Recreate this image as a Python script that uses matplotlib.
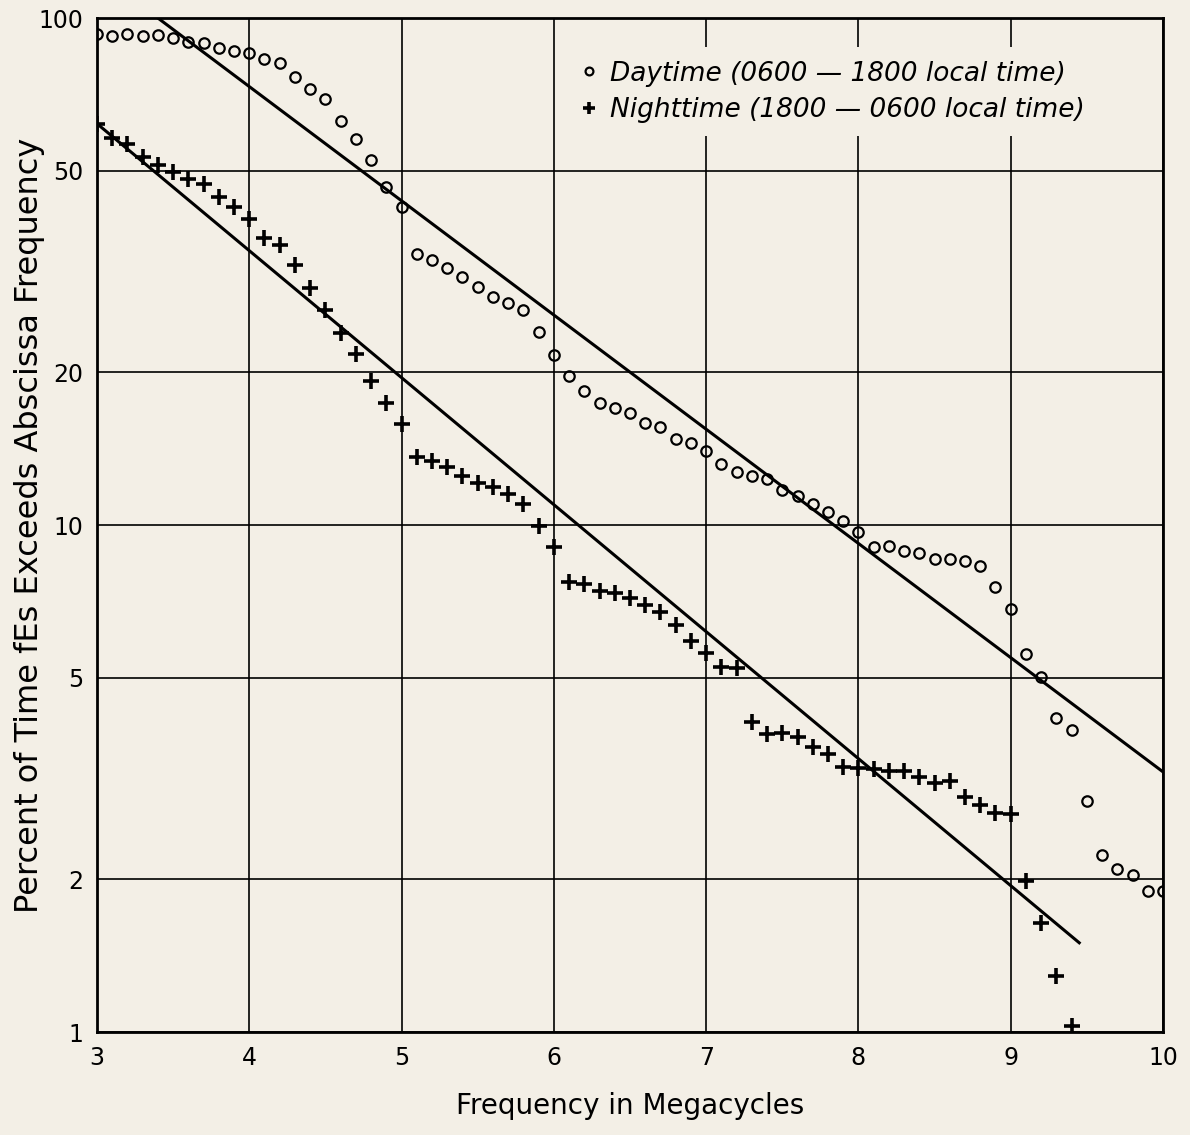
import matplotlib
matplotlib.use("Agg")
import matplotlib.pyplot as plt
import numpy as np

# frequency steps (Mc) and percent of time fEs exceeds that frequency
day_freq = [3.0, 3.1, 3.2, 3.3, 3.4, 3.5, 3.6, 3.7, 3.8, 3.9,
            4.0, 4.1, 4.2, 4.3, 4.4, 4.5, 4.6, 4.7, 4.8, 4.9,
            5.0, 5.1, 5.2, 5.3, 5.4, 5.5, 5.6, 5.7, 5.8, 5.9,
            6.0, 6.1, 6.2, 6.3, 6.4, 6.5, 6.6, 6.7, 6.8, 6.9,
            7.0, 7.1, 7.2, 7.3, 7.4, 7.5, 7.6, 7.7, 7.8, 7.9,
            8.0, 8.1, 8.2, 8.3, 8.4, 8.5, 8.6, 8.7, 8.8, 8.9,
            9.0, 9.1, 9.2, 9.3, 9.4, 9.5, 9.6, 9.7, 9.8, 9.9, 10.0]
day_pct = [92.9, 92.3, 92.9, 92.3, 92.6, 91.4, 89.8, 89.3, 87.2, 86.2,
           85.2, 83.0, 81.6, 76.5, 72.4, 69.1, 62.7, 57.8, 52.4, 46.5,
           42.4, 34.2, 33.4, 32.1, 30.8, 29.5, 28.2, 27.4, 26.6, 24.0,
           21.6, 19.7, 18.4, 17.4, 17.0, 16.6, 15.9, 15.6, 14.8, 14.5,
           14.0, 13.2, 12.7, 12.5, 12.3, 11.7, 11.4, 11.0, 10.6, 10.2,
           9.7, 9.06, 9.1, 8.87, 8.82, 8.58, 8.58, 8.48, 8.29, 7.55,
           6.82, 5.57, 5.02, 4.17, 3.95, 2.86, 2.23, 2.10, 2.04, 1.90, 1.90]

night_freq = [3.0, 3.1, 3.2, 3.3, 3.4, 3.5, 3.6, 3.7, 3.8, 3.9,
              4.0, 4.1, 4.2, 4.3, 4.4, 4.5, 4.6, 4.7, 4.8, 4.9,
              5.0, 5.1, 5.2, 5.3, 5.4, 5.5, 5.6, 5.7, 5.8, 5.9,
              6.0, 6.1, 6.2, 6.3, 6.4, 6.5, 6.6, 6.7, 6.8, 6.9,
              7.0, 7.1, 7.2, 7.3, 7.4, 7.5, 7.6, 7.7, 7.8, 7.9,
              8.0, 8.1, 8.2, 8.3, 8.4, 8.5, 8.6, 8.7, 8.8, 8.9,
              9.0, 9.1, 9.2, 9.3, 9.4]
night_pct = [61.7, 58.1, 56.4, 53.3, 51.3, 49.8, 48.1, 47.0, 44.4, 42.4,
             40.1, 36.9, 35.6, 32.6, 29.3, 26.5, 23.9, 21.7, 19.2, 17.4,
             15.8, 13.6, 13.4, 13.0, 12.5, 12.1, 11.9, 11.5, 11.0, 9.97,
             9.04, 7.71, 7.65, 7.42, 7.35, 7.17, 6.95, 6.74, 6.35, 5.91,
             5.60, 5.26, 5.22, 4.09, 3.88, 3.89, 3.82, 3.65, 3.53, 3.34,
             3.32, 3.31, 3.28, 3.28, 3.19, 3.10, 3.13, 2.91, 2.81, 2.71,
             2.69, 1.99, 1.64, 1.29, 1.03]

# fitted straight lines (end points)
day_fit_x = [3.40, 10.0]
day_fit_y = [100.0, 3.26]
night_fit_x = [3.0, 9.45]
night_fit_y = [61.9, 1.50]

x_ticks = [3, 4, 5, 6, 7, 8, 9, 10]
y_ticks = [1, 2, 5, 10, 20, 50, 100]

bg = "#f3efe6"
plt.rcParams["font.family"] = ["DejaVu Sans"]

fig = plt.figure(figsize=(11.9, 11.35), dpi=100, facecolor=bg)
ax = fig.add_axes([0.0815, 0.0907, 0.8958, 0.8934])
ax.set_facecolor(bg)

ax.plot(day_fit_x, day_fit_y, color="black", lw=2.2)
ax.plot(night_fit_x, night_fit_y, color="black", lw=2.2)

ax.plot(day_freq, day_pct, "o", ms=7.5, mfc="none", mec="black", mew=1.6,
        linestyle="none", label="Daytime (0600 — 1800 local time)")
ax.plot(night_freq, night_pct, "+", ms=11, mec="black", mew=2.6,
        linestyle="none", label="Nighttime (1800 — 0600 local time)")

ax.set_yscale("log")
ax.set_xlim(3, 10)
ax.set_ylim(1, 100)
ax.set_xticks(x_ticks)
ax.set_xticklabels([str(t) for t in x_ticks])
ax.set_yticks(y_ticks)
ax.set_yticklabels([str(t) for t in y_ticks])
ax.minorticks_off()
ax.tick_params(length=0, labelsize=17, pad=10)
ax.grid(True, color="black", lw=1.2)

for s in ax.spines.values():
    s.set_linewidth(2)

ax.set_xlabel("Frequency in Megacycles", fontsize=20, labelpad=16)
ax.set_ylabel("Percent of Time fEs Exceeds Abscissa Frequency", fontsize=23)
ax.yaxis.set_label_coords(-0.049, 0.5)

leg = ax.legend(loc="upper left", bbox_to_anchor=(0.424, 0.984), frameon=True,
                facecolor=bg, edgecolor="none", framealpha=1,
                prop={"style": "italic", "size": 19}, handletextpad=0.3,
                handlelength=1.0, labelspacing=0.4, markerscale=0.75,
                borderpad=0.5)

fig.savefig("out.png", dpi=100, facecolor=bg)
